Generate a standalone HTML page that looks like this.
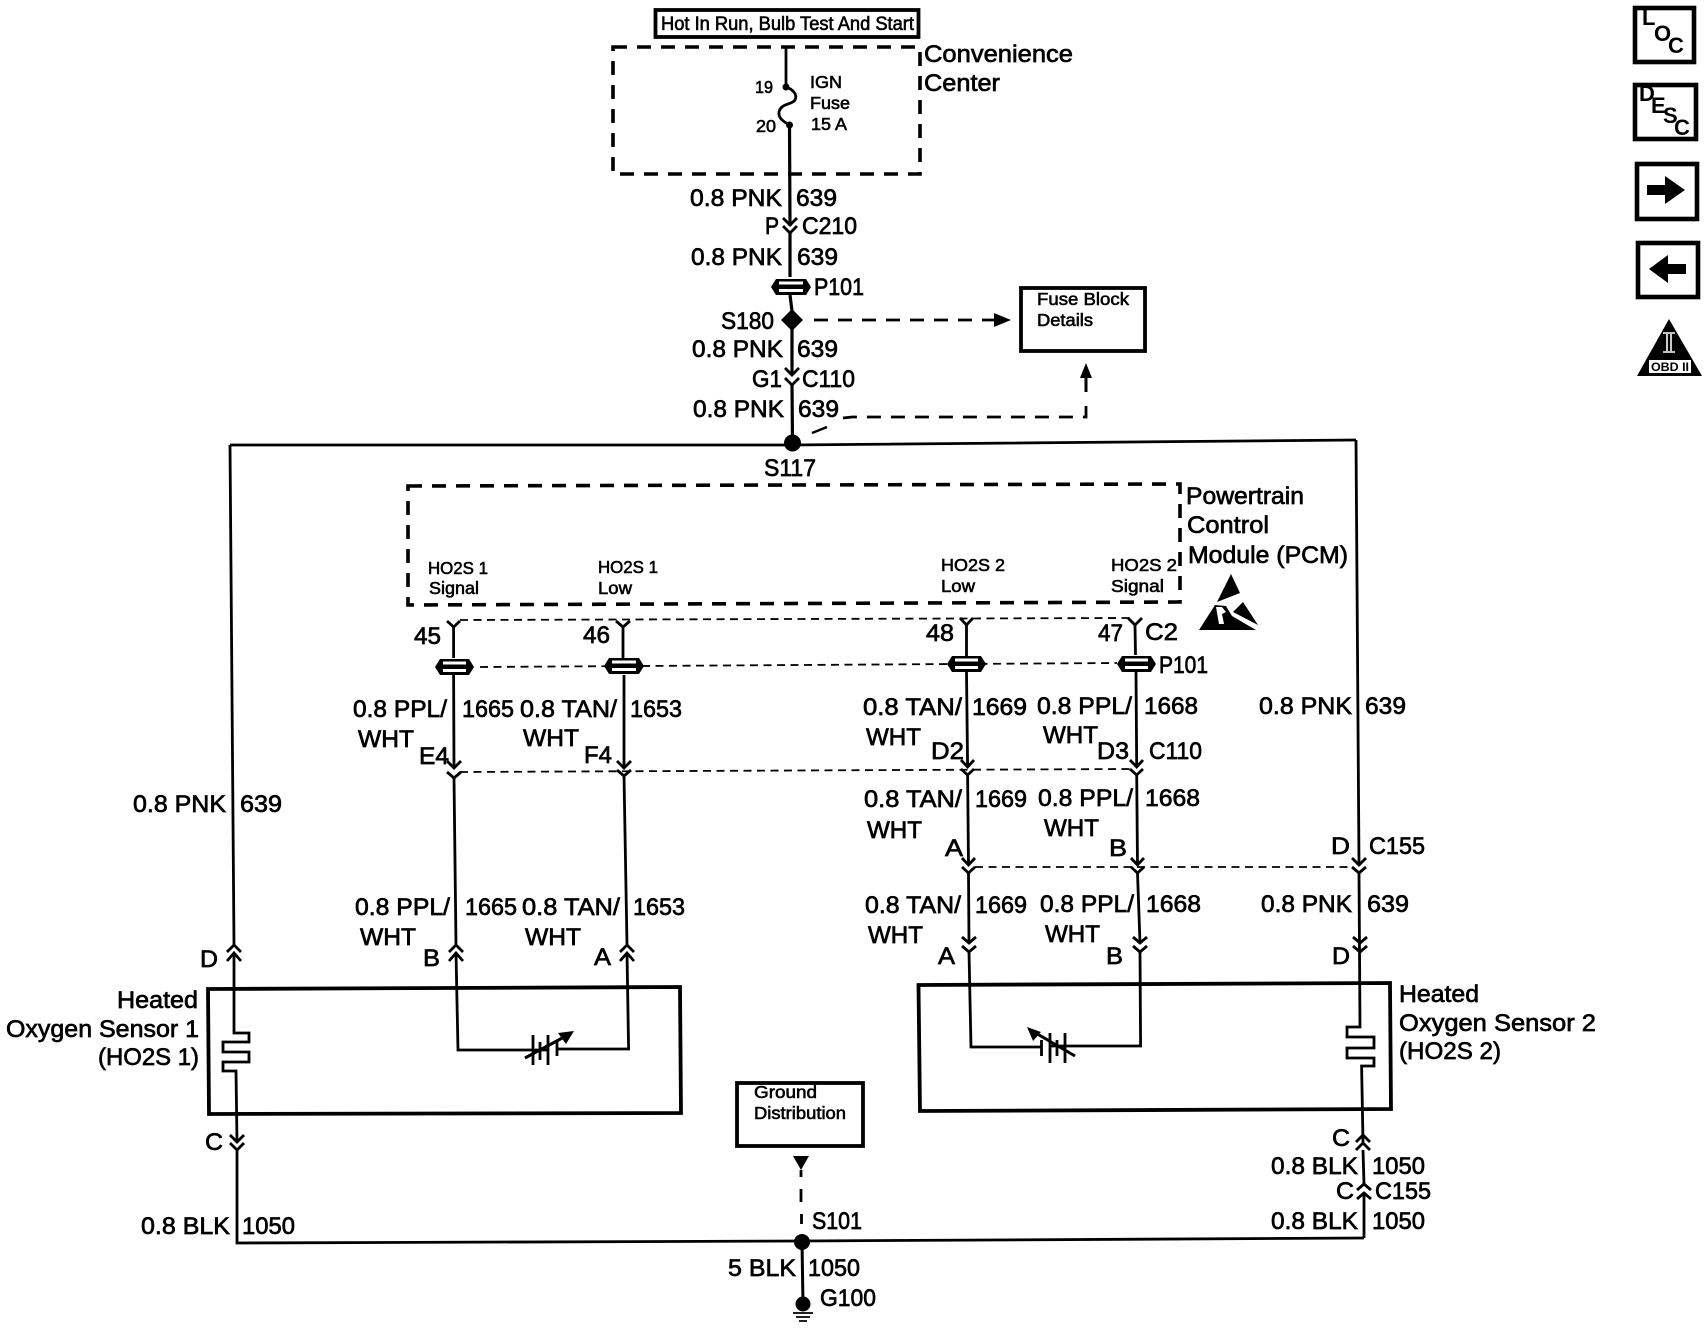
<!DOCTYPE html>
<html><head><meta charset="utf-8"><style>
html,body{margin:0;padding:0;background:#fff}
svg{display:block}
text{font-family:"Liberation Sans",Arial,sans-serif;fill:#000;stroke:#000;stroke-width:.7}
.a{font-size:24.5px}.s{font-size:17.5px;stroke-width:.6}.t{font-size:19px;stroke-width:.6}
.w{fill:none;stroke:#000;stroke-width:2.8}
.b{fill:none;stroke:#000;stroke-width:3.8}
.d{fill:none;stroke:#000;stroke-width:3.6;stroke-dasharray:14 10}
.e{fill:none;stroke:#000;stroke-width:2.8;stroke-dasharray:14 10}
.f{fill:none;stroke:#000;stroke-width:1.8;stroke-dasharray:8 5.5}
.i{font-size:22px;font-weight:bold;stroke:none}
.k{fill:#000}
.o{fill:#fff}
</style></head><body>
<svg xmlns="http://www.w3.org/2000/svg" width="1708" height="1344" viewBox="0 0 1708 1344">
<rect width="1708" height="1344" fill="#fff"/>

<!-- top boxes -->
<rect x="655.5" y="10" width="263" height="27" class="b"/>
<text class="t" x="661" y="30" textLength="253" lengthAdjust="spacingAndGlyphs">Hot In Run, Bulb Test And Start</text>
<path d="M613 47H920V174H613Z" class="d"/>
<text class="a" x="924" y="62" textLength="149" lengthAdjust="spacingAndGlyphs">Convenience</text>
<text class="a" x="924" y="91" textLength="76" lengthAdjust="spacingAndGlyphs">Center</text>
<text class="s" x="755" y="93" textLength="18" lengthAdjust="spacingAndGlyphs">19</text>
<text class="s" x="756" y="132" textLength="20" lengthAdjust="spacingAndGlyphs">20</text>
<text class="s" x="810" y="88" textLength="32" lengthAdjust="spacingAndGlyphs">IGN</text>
<text class="s" x="810" y="109" textLength="40" lengthAdjust="spacingAndGlyphs">Fuse</text>
<text class="s" x="811" y="130" textLength="36" lengthAdjust="spacingAndGlyphs">15 A</text>

<!-- main vertical feed -->
<path class="w" d="M786 47V87C792 89 798 94 795 100C792 105 781 103 779 112C778 119 785 122 789 125"/>
<circle cx="786" cy="87" r="3.5"/><circle cx="789.5" cy="125" r="3.5"/>
<path d="M789.5 125L790 226M790 233L790 277M790 295L792 311M792 329L792 375M792 385L792.5 443" fill="none" stroke="#000" stroke-width="3.2"/>
<path class="w" d="M783 218L790 225L797 218M783 226L790 233L797 226"/>
<path class="w" d="M785 368L792 375L799 368M785 378L792 385L799 378"/>
<text class="a" x="690" y="206" textLength="92" lengthAdjust="spacingAndGlyphs">0.8 PNK</text>
<text class="a" x="796" y="206" textLength="41" lengthAdjust="spacingAndGlyphs">639</text>
<text class="a" x="765" y="234" textLength="14" lengthAdjust="spacingAndGlyphs">P</text>
<text class="a" x="802" y="234" textLength="55" lengthAdjust="spacingAndGlyphs">C210</text>
<text class="a" x="691" y="265" textLength="91" lengthAdjust="spacingAndGlyphs">0.8 PNK</text>
<text class="a" x="797" y="265" textLength="41" lengthAdjust="spacingAndGlyphs">639</text>
<path class="k" d="M771 287L776 279H806L811 287L806 295H776Z"/>
<rect class="o" x="779" y="281.5" width="24" height="3"/><rect class="o" x="779" y="289" width="24" height="3"/>
<text class="a" x="814" y="295" textLength="50" lengthAdjust="spacingAndGlyphs">P101</text>
<path d="M792 309L803 320L792 331L781 320Z"/>
<text class="a" x="721" y="329" textLength="53" lengthAdjust="spacingAndGlyphs">S180</text>
<path class="e" d="M814 320H996"/>
<path d="M1011 320L994 313V327Z"/>
<rect x="1022" y="288" width="124" height="63" class="b" transform="translate(-1 0)"/>
<text class="s" x="1037" y="305" textLength="92" lengthAdjust="spacingAndGlyphs">Fuse Block</text>
<text class="s" x="1037" y="326" textLength="56" lengthAdjust="spacingAndGlyphs">Details</text>
<text class="a" x="692" y="357" textLength="91" lengthAdjust="spacingAndGlyphs">0.8 PNK</text>
<text class="a" x="797" y="357" textLength="41" lengthAdjust="spacingAndGlyphs">639</text>
<text class="a" x="752" y="387" textLength="30" lengthAdjust="spacingAndGlyphs">G1</text>
<text class="a" x="802" y="387" textLength="53" lengthAdjust="spacingAndGlyphs">C110</text>
<text class="a" x="693" y="417" textLength="91" lengthAdjust="spacingAndGlyphs">0.8 PNK</text>
<text class="a" x="798" y="417" textLength="41" lengthAdjust="spacingAndGlyphs">639</text>
<path class="e" d="M843 418L852 417H1086V402"/>
<path d="M1086 363L1080 378H1092Z"/><path d="M1086 372V392" stroke="#000" stroke-width="3"/>
<path d="M812 433L827 427" stroke="#000" stroke-width="2.4"/>

<!-- bus -->
<path class="w" d="M230 445H792L1356 440"/>
<circle cx="792.5" cy="443" r="8.5"/>
<text class="a" x="764" y="476" textLength="52" lengthAdjust="spacingAndGlyphs">S117</text>

<!-- left riser -->
<path class="w" d="M230 445L234 945M234 953V1033H249V1042H223V1052H249V1062H223V1071H236L237 1142M237 1150V1243L802 1241L1364 1238"/>
<path class="w" d="M227 952L234 945L241 952M227 961L234 953L241 961"/>
<path class="w" d="M230 1135L237 1142L244 1135M230 1143L237 1150L244 1143"/>
<text class="a" x="133" y="812" textLength="93" lengthAdjust="spacingAndGlyphs">0.8 PNK</text>
<text class="a" x="240" y="812" textLength="42" lengthAdjust="spacingAndGlyphs">639</text>
<text class="a" x="200" y="967" textLength="18" lengthAdjust="spacingAndGlyphs">D</text>
<text class="a" x="205" y="1150" textLength="18" lengthAdjust="spacingAndGlyphs">C</text>
<text class="a" x="141" y="1234" textLength="89" lengthAdjust="spacingAndGlyphs">0.8 BLK</text>
<text class="a" x="242" y="1234" textLength="53" lengthAdjust="spacingAndGlyphs">1050</text>

<!-- PCM -->
<path d="M408 486L1180 484V602L408 605Z" class="d"/>
<text class="a" x="1186" y="504" textLength="118" lengthAdjust="spacingAndGlyphs">Powertrain</text>
<text class="a" x="1187" y="533" textLength="82" lengthAdjust="spacingAndGlyphs">Control</text>
<text class="a" x="1188" y="563" textLength="160" lengthAdjust="spacingAndGlyphs">Module (PCM)</text>
<text class="s" x="428" y="574" textLength="60" lengthAdjust="spacingAndGlyphs">HO2S 1</text>
<text class="s" x="429" y="594" textLength="50" lengthAdjust="spacingAndGlyphs">Signal</text>
<text class="s" x="598" y="573" textLength="60" lengthAdjust="spacingAndGlyphs">HO2S 1</text>
<text class="s" x="598" y="594" textLength="34" lengthAdjust="spacingAndGlyphs">Low</text>
<text class="s" x="941" y="571" textLength="64" lengthAdjust="spacingAndGlyphs">HO2S 2</text>
<text class="s" x="941" y="592" textLength="34" lengthAdjust="spacingAndGlyphs">Low</text>
<text class="s" x="1111" y="571" textLength="66" lengthAdjust="spacingAndGlyphs">HO2S 2</text>
<text class="s" x="1111" y="592" textLength="53" lengthAdjust="spacingAndGlyphs">Signal</text>
<!-- ESD -->
<path d="M1231 574L1240 593L1217 602Z"/>
<path d="M1199 630L1215 605L1226 606L1232 616L1256 630Z"/>
<path d="M1243 602L1258 625L1233 612Z"/>
<path class="o" d="M1216 607L1219 624H1224L1222 614L1226 612L1222 607Z"/>

<!-- dashed connector lines -->
<path class="f" d="M460 620L1130 618"/>
<path class="f" d="M480 667L1117 663"/>
<path class="f" d="M460 772L1130 769"/>
<path class="f" d="M975 867H1352" stroke-width="2"/>

<!-- wires -->
<path class="w" d="M453.6 627V658M453.6 675L454 768M454 778L456 945M456 953L458 1050H548"/>
<path class="w" d="M623 627V658M624 675V768M624 776L627 945M627 953L628.6 1049H557"/>
<path class="w" d="M966.5 625V656M966.5 672L967.6 767M967.6 775L968.5 865M968.5 873L969 943M969 952L971 1047H1041.5"/>
<path class="w" d="M1135 625L1135.5 655M1136 672L1136.7 767M1136.7 775L1137.5 865M1137.5 873L1140 943M1140 952L1140.6 1046H1050"/>
<path class="w" d="M1356 440L1359 865M1359 873L1360 1027H1347V1037H1374V1048H1347V1058H1374V1066H1361.6L1363 1142M1363 1150L1364 1184M1364 1193V1238"/>

<!-- Y tops -->
<path class="w" d="M447 621L453.6 627L460 621M616 621L623 627L630 621M960 618L966.5 625L973 618M1128 618L1135 625L1142 618"/>
<!-- row C110 -->
<path class="w" d="M447 761L454 768L461 761M447 772L454 778L461 772M617 761L624 768L631 761M617 770L624 776L631 770M961 760L967.6 767L974 760M961 769L967.6 775L974 769M1130 760L1136.7 767L1143 760M1130 769L1136.7 775L1143 769"/>
<!-- row A/B/D -->
<path class="w" d="M962 858L968.5 865L975 858M962 867L968.5 873L975 867M1131 858L1137.5 865L1144 858M1131 867L1137.5 873L1144 867M1352 858L1359 865L1366 858M1352 867L1359 873L1366 867"/>
<!-- sensor row -->
<path class="w" d="M962 937L969 943L976 937M962 946L969 952L976 946M1133 937L1140 943L1147 937M1133 946L1140 952L1147 946M1353 937L1360 943L1367 937M1353 946L1360 952L1367 946"/>
<path class="w" d="M449 952L456 945L463 952M449 961L456 953L463 961M620 952L627 945L634 952M620 961L627 953L634 961"/>
<path class="w" d="M1356 1142L1363 1135L1370 1142M1356 1150L1363 1143L1370 1150M1357 1190L1364 1184L1371 1190M1357 1199L1364 1193L1371 1199"/>

<!-- lenses -->
<path class="k" d="M435 667L440 659H469L474 667L469 675H440Z"/>
<rect class="o" x="443" y="661.5" width="23" height="3"/><rect class="o" x="443" y="669" width="23" height="3"/>
<path class="k" d="M604 666L609 658H639L644 666L639 674H609Z"/>
<rect class="o" x="612" y="660.5" width="24" height="3"/><rect class="o" x="612" y="668" width="24" height="3"/>
<path class="k" d="M947 664L952 656H981L986 664L981 672H952Z"/>
<rect class="o" x="955" y="658.5" width="23" height="3"/><rect class="o" x="955" y="666" width="23" height="3"/>
<path class="k" d="M1117 664L1122 656H1151L1156 664L1151 672H1122Z"/>
<rect class="o" x="1125" y="658.5" width="23" height="3"/><rect class="o" x="1125" y="666" width="23" height="3"/>

<!-- pin numbers -->
<text class="a" x="414" y="644" textLength="27" lengthAdjust="spacingAndGlyphs">45</text>
<text class="a" x="583" y="643" textLength="27" lengthAdjust="spacingAndGlyphs">46</text>
<text class="a" x="926" y="641" textLength="28" lengthAdjust="spacingAndGlyphs">48</text>
<text class="a" x="1098" y="641" textLength="25" lengthAdjust="spacingAndGlyphs">47</text>
<text class="a" x="1145" y="640" textLength="33" lengthAdjust="spacingAndGlyphs">C2</text>
<text class="a" x="1159" y="673" textLength="49" lengthAdjust="spacingAndGlyphs">P101</text>

<!-- row 1 labels -->
<text class="a" x="353" y="717" textLength="94" lengthAdjust="spacingAndGlyphs">0.8 PPL/</text>
<text class="a" x="462" y="717" textLength="52" lengthAdjust="spacingAndGlyphs">1665</text>
<text class="a" x="520" y="717" textLength="97" lengthAdjust="spacingAndGlyphs">0.8 TAN/</text>
<text class="a" x="630" y="717" textLength="52" lengthAdjust="spacingAndGlyphs">1653</text>
<text class="a" x="358" y="747" textLength="56" lengthAdjust="spacingAndGlyphs">WHT</text>
<text class="a" x="523" y="746" textLength="56" lengthAdjust="spacingAndGlyphs">WHT</text>
<text class="a" x="419" y="764" textLength="30" lengthAdjust="spacingAndGlyphs">E4</text>
<text class="a" x="584" y="763" textLength="28" lengthAdjust="spacingAndGlyphs">F4</text>
<text class="a" x="863" y="715" textLength="99" lengthAdjust="spacingAndGlyphs">0.8 TAN/</text>
<text class="a" x="972" y="715" textLength="55" lengthAdjust="spacingAndGlyphs">1669</text>
<text class="a" x="1037" y="714" textLength="95" lengthAdjust="spacingAndGlyphs">0.8 PPL/</text>
<text class="a" x="1144" y="714" textLength="54" lengthAdjust="spacingAndGlyphs">1668</text>
<text class="a" x="1259" y="714" textLength="93" lengthAdjust="spacingAndGlyphs">0.8 PNK</text>
<text class="a" x="1365" y="714" textLength="41" lengthAdjust="spacingAndGlyphs">639</text>
<text class="a" x="866" y="745" textLength="55" lengthAdjust="spacingAndGlyphs">WHT</text>
<text class="a" x="1043" y="743" textLength="55" lengthAdjust="spacingAndGlyphs">WHT</text>
<text class="a" x="931" y="759" textLength="33" lengthAdjust="spacingAndGlyphs">D2</text>
<text class="a" x="1097" y="759" textLength="32" lengthAdjust="spacingAndGlyphs">D3</text>
<text class="a" x="1149" y="759" textLength="53" lengthAdjust="spacingAndGlyphs">C110</text>

<!-- row 2 labels -->
<text class="a" x="864" y="807" textLength="98" lengthAdjust="spacingAndGlyphs">0.8 TAN/</text>
<text class="a" x="975" y="807" textLength="52" lengthAdjust="spacingAndGlyphs">1669</text>
<text class="a" x="1038" y="806" textLength="95" lengthAdjust="spacingAndGlyphs">0.8 PPL/</text>
<text class="a" x="1145" y="806" textLength="55" lengthAdjust="spacingAndGlyphs">1668</text>
<text class="a" x="867" y="838" textLength="55" lengthAdjust="spacingAndGlyphs">WHT</text>
<text class="a" x="1044" y="836" textLength="55" lengthAdjust="spacingAndGlyphs">WHT</text>
<text class="a" x="945" y="856" textLength="18" lengthAdjust="spacingAndGlyphs">A</text>
<text class="a" x="1109" y="856" textLength="18" lengthAdjust="spacingAndGlyphs">B</text>
<text class="a" x="1331" y="854" textLength="19" lengthAdjust="spacingAndGlyphs">D</text>
<text class="a" x="1369" y="854" textLength="56" lengthAdjust="spacingAndGlyphs">C155</text>

<!-- row 3 labels -->
<text class="a" x="355" y="915" textLength="95" lengthAdjust="spacingAndGlyphs">0.8 PPL/</text>
<text class="a" x="465" y="915" textLength="52" lengthAdjust="spacingAndGlyphs">1665</text>
<text class="a" x="522" y="915" textLength="98" lengthAdjust="spacingAndGlyphs">0.8 TAN/</text>
<text class="a" x="633" y="915" textLength="52" lengthAdjust="spacingAndGlyphs">1653</text>
<text class="a" x="360" y="945" textLength="56" lengthAdjust="spacingAndGlyphs">WHT</text>
<text class="a" x="525" y="945" textLength="56" lengthAdjust="spacingAndGlyphs">WHT</text>
<text class="a" x="423" y="966" textLength="17" lengthAdjust="spacingAndGlyphs">B</text>
<text class="a" x="594" y="965" textLength="17" lengthAdjust="spacingAndGlyphs">A</text>
<text class="a" x="865" y="913" textLength="96" lengthAdjust="spacingAndGlyphs">0.8 TAN/</text>
<text class="a" x="975" y="913" textLength="52" lengthAdjust="spacingAndGlyphs">1669</text>
<text class="a" x="1040" y="912" textLength="94" lengthAdjust="spacingAndGlyphs">0.8 PPL/</text>
<text class="a" x="1146" y="912" textLength="55" lengthAdjust="spacingAndGlyphs">1668</text>
<text class="a" x="1261" y="912" textLength="91" lengthAdjust="spacingAndGlyphs">0.8 PNK</text>
<text class="a" x="1367" y="912" textLength="42" lengthAdjust="spacingAndGlyphs">639</text>
<text class="a" x="868" y="943" textLength="55" lengthAdjust="spacingAndGlyphs">WHT</text>
<text class="a" x="1045" y="942" textLength="55" lengthAdjust="spacingAndGlyphs">WHT</text>
<text class="a" x="938" y="964" textLength="17" lengthAdjust="spacingAndGlyphs">A</text>
<text class="a" x="1106" y="964" textLength="17" lengthAdjust="spacingAndGlyphs">B</text>
<text class="a" x="1332" y="964" textLength="18" lengthAdjust="spacingAndGlyphs">D</text>

<!-- sensor 1 -->
<path d="M208 989L680 987L681 1113L209 1114Z" class="b"/>
<text class="a" x="117" y="1008" textLength="81" lengthAdjust="spacingAndGlyphs">Heated</text>
<text class="a" x="6" y="1037" textLength="193" lengthAdjust="spacingAndGlyphs">Oxygen Sensor 1</text>
<text class="a" x="98" y="1065" textLength="101" lengthAdjust="spacingAndGlyphs">(HO2S 1)</text>
<path class="w" d="M533 1035V1065M540 1042V1060M548 1035V1065M557 1042V1056"/>
<path d="M525 1058L566 1036" stroke="#000" stroke-width="3"/>
<path d="M574 1031L558 1033L566 1044Z"/>

<!-- sensor 2 -->
<path d="M918.5 987L1390 985L1391 1111L920 1113Z" class="b" transform="translate(0 -2)"/>
<text class="a" x="1399" y="1002" textLength="80" lengthAdjust="spacingAndGlyphs">Heated</text>
<text class="a" x="1399" y="1031" textLength="197" lengthAdjust="spacingAndGlyphs">Oxygen Sensor 2</text>
<text class="a" x="1399" y="1059" textLength="102" lengthAdjust="spacingAndGlyphs">(HO2S 2)</text>
<path class="w" d="M1041.5 1040V1056M1050 1033V1063M1057 1040V1056M1065 1033V1063"/>
<path d="M1075 1056L1034 1032" stroke="#000" stroke-width="3"/>
<path d="M1027 1027L1033 1041L1041 1032Z"/>

<!-- right lower labels -->
<text class="a" x="1332" y="1146" textLength="18" lengthAdjust="spacingAndGlyphs">C</text>
<text class="a" x="1271" y="1174" textLength="87" lengthAdjust="spacingAndGlyphs">0.8 BLK</text>
<text class="a" x="1372" y="1174" textLength="53" lengthAdjust="spacingAndGlyphs">1050</text>
<text class="a" x="1336" y="1199" textLength="18" lengthAdjust="spacingAndGlyphs">C</text>
<text class="a" x="1375" y="1199" textLength="56" lengthAdjust="spacingAndGlyphs">C155</text>
<text class="a" x="1271" y="1229" textLength="87" lengthAdjust="spacingAndGlyphs">0.8 BLK</text>
<text class="a" x="1372" y="1229" textLength="53" lengthAdjust="spacingAndGlyphs">1050</text>

<!-- ground -->
<rect x="737" y="1083" width="126" height="63" class="b"/>
<text class="s" x="754" y="1098" textLength="63" lengthAdjust="spacingAndGlyphs">Ground</text>
<text class="s" x="754" y="1119" textLength="92" lengthAdjust="spacingAndGlyphs">Distribution</text>
<path d="M793 1156H809L801 1170Z"/>
<path class="w" d="M801 1170V1177M801 1189V1202M801.5 1214V1224" stroke-width="2"/>
<text class="a" x="812" y="1229" textLength="50" lengthAdjust="spacingAndGlyphs">S101</text>
<circle cx="802" cy="1242" r="8"/>
<path d="M802 1242L803 1304" stroke="#000" stroke-width="3"/>
<text class="a" x="728" y="1276" textLength="68" lengthAdjust="spacingAndGlyphs">5 BLK</text>
<text class="a" x="808" y="1276" textLength="52" lengthAdjust="spacingAndGlyphs">1050</text>
<circle cx="803" cy="1304" r="7.5"/>
<path d="M793 1313H813M796 1317H810M799 1321H807" stroke="#000" stroke-width="1.8"/>
<text class="a" x="820" y="1306" textLength="56" lengthAdjust="spacingAndGlyphs">G100</text>

<!-- side icons -->
<rect x="1635" y="8" width="59" height="54" class="b" style="stroke-width:4.6"/>
<text class="i" x="1642" y="25">L</text><text class="i" x="1654" y="41">O</text><text class="i" x="1668" y="53">C</text>
<rect x="1635" y="85" width="61" height="54" class="b" style="stroke-width:4.6"/>
<text class="i" x="1639" y="101">D</text><text class="i" x="1651" y="113">E</text><text class="i" x="1663" y="123">S</text><text class="i" x="1674" y="135">C</text>
<rect x="1637" y="164" width="60" height="55" class="b" style="stroke-width:4.6"/>
<path d="M1647 185H1665V176L1685 190L1665 204V195H1647Z"/>
<rect x="1638" y="243" width="60" height="54" class="b" style="stroke-width:4.6"/>
<path d="M1649 269L1668 255V264H1686V274H1668V283Z"/>
<path d="M1669 319L1702 376H1637Z"/>
<path d="M1663 333H1675M1663 352H1675M1667 334V351M1671 334V351" stroke="#fff" stroke-width="1.6"/>
<rect x="1649" y="360" width="42" height="13" fill="#fff"/>
<text x="1651" y="371" style="font-size:11.5px;font-weight:bold;stroke:none" textLength="38" lengthAdjust="spacingAndGlyphs">OBD II</text>
</svg>
</body></html>
